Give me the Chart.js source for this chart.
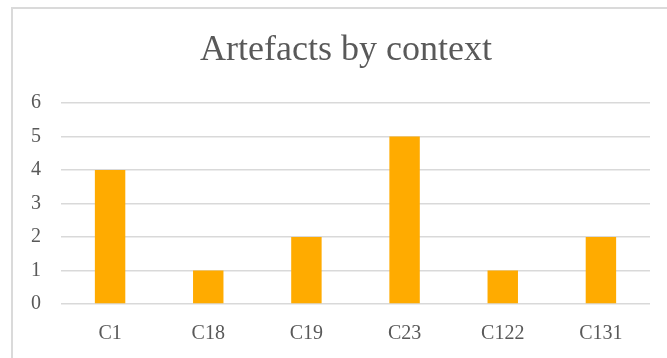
<!DOCTYPE html>
<html>
<head>
<meta charset="utf-8">
<style>
  html, body { margin: 0; padding: 0; background: #ffffff; }
  #wrap { position: relative; width: 667px; height: 358px; }
</style>
<script src="https://cdn.jsdelivr.net/npm/chart.js@4"></script>
</head>
<body>
<div id="wrap"><canvas id="chart" width="667" height="358"></canvas></div>
<script>
// Artefact counts per excavation context
const contexts = ['C1', 'C18', 'C19', 'C23', 'C122', 'C131'];
const artefactCounts = [4, 1, 2, 5, 1, 2];
const yTicks = [0, 1, 2, 3, 4, 5, 6];
const chartTitle = 'Artefacts by context';

const TEXT = '#595959';
const GRID = '#d9d9d9';
const SERIF = "'Liberation Serif', 'DejaVu Serif', serif";

// Light frame along the left and top edges of the panel, plus the heading
const framePlugin = {
  id: 'frame',
  beforeDraw(chart) {
    const ctx = chart.ctx;
    ctx.save();
    ctx.fillStyle = '#dadada';
    ctx.fillRect(11, 7, 2, chart.height - 7);
    ctx.fillRect(11, 7, chart.width - 11, 2);
    ctx.restore();
  },
  afterDraw(chart) {
    const ctx = chart.ctx;
    ctx.save();
    ctx.fillStyle = TEXT;
    ctx.font = '36px ' + SERIF;
    ctx.textAlign = 'center';
    ctx.textBaseline = 'alphabetic';
    ctx.fillText(chartTitle, 346, 59.5);
    ctx.restore();
  }
};

new Chart(document.getElementById('chart'), {
  type: 'bar',
  data: {
    labels: contexts,
    datasets: [{
      label: 'Artefacts',
      data: artefactCounts,
      backgroundColor: '#ffab00',
      borderWidth: 0,
      barPercentage: 0.31,
      categoryPercentage: 1.0
    }]
  },
  options: {
    responsive: false,
    animation: false,
    devicePixelRatio: 1,
    layout: { padding: { left: 0, right: 17, top: 103, bottom: 0 } },
    plugins: {
      legend: { display: false },
      tooltip: { enabled: false },
      title: { display: false }
    },
    scales: {
      x: {
        grid: { display: false, drawTicks: false },
        border: { display: false },
        ticks: {
          color: TEXT,
          font: { family: SERIF, size: 20 },
          padding: 18,
          maxRotation: 0
        },
        afterFit(scale) { scale.height = 54; }
      },
      y: {
        min: 0,
        max: 6,
        afterBuildTicks(scale) {
          scale.ticks = yTicks.map(v => ({ value: v }));
        },
        grid: { color: GRID, lineWidth: 1.5, drawTicks: false },
        border: { display: false },
        ticks: {
          color: TEXT,
          font: { family: SERIF, size: 20 },
          padding: 20
        },
        afterFit(scale) { scale.width = 61; }
      }
    }
  },
  plugins: [framePlugin]
});
</script>
</body>
</html>
